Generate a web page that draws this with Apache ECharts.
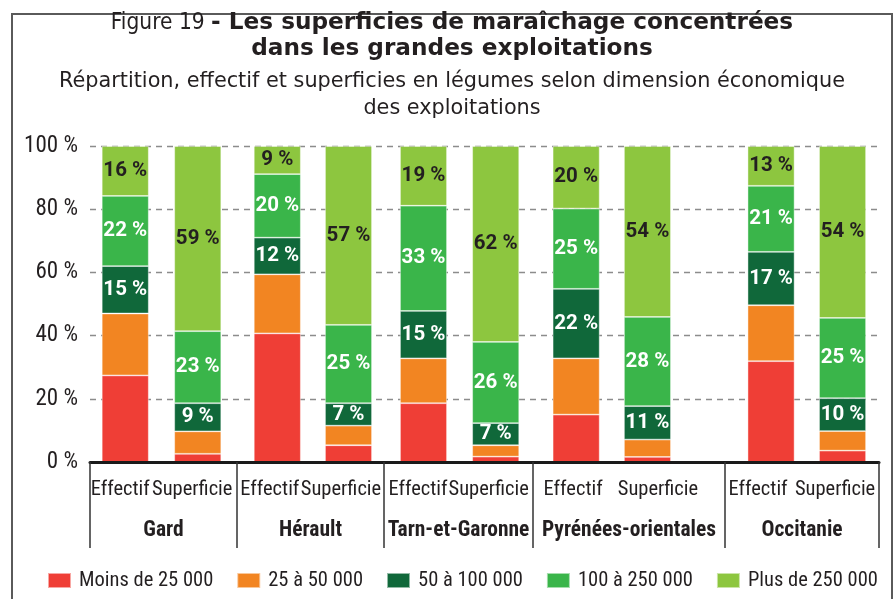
<!DOCTYPE html>
<html>
<head>
<meta charset="utf-8">
<script src="https://cdn.jsdelivr.net/npm/echarts@6/dist/echarts.min.js"></script>
<style>
html,body{margin:0;padding:0;background:#fff;}
#chart{width:895px;height:599px;}
</style>
</head>
<body>
<div id="chart"></div>
<script>
// ---- Data ----
var groups = ['Gard', 'Hérault', 'Tarn-et-Garonne', 'Pyrénées-orientales', 'Occitanie'];
var barCategories = ['Effectif', 'Superficie'];
var seriesNames = ['Moins de 25 000', '25 à 50 000', '50 à 100 000', '100 à 250 000', 'Plus de 250 000'];
// order: Gard E, Gard S, Hérault E, Hérault S, Tarn E, Tarn S, Pyr E, Pyr S, Occ E, Occ S
var moins25000   = [27.4, 2.6, 40.7, 5.3, 18.6, 1.7, 15.0, 1.6, 31.9, 3.6];
var de25a50000   = [19.6, 7.1, 18.7, 6.2, 14.2, 3.6, 17.8, 5.5, 17.7, 6.2];
var de50a100000  = [15.0, 8.9, 11.6, 7.1, 15.0, 7.0, 22.0, 10.6, 16.9, 10.4];
var de100a250000 = [22.2, 22.8, 20.1, 24.8, 33.3, 25.7, 25.4, 28.2, 20.9, 25.4];
var plus250000   = [15.8, 58.6, 8.9, 56.6, 18.9, 62.0, 19.8, 54.1, 12.6, 54.4];
var yTicks = [0, 20, 40, 60, 80, 100];

var seriesValues = [moins25000, de25a50000, de50a100000, de100a250000, plus250000];
var colors = ['#EF3E36', '#F28522', '#10683A', '#3AB54A', '#8DC63F'];
var labelColors = [null, null, '#ffffff', '#ffffff', '#231F20'];

var NARROW = "'Roboto Condensed','DejaVu Sans Condensed',sans-serif";
var TXT = '#231F20';

// layout (pixels)
var TOP = 146, H = 316;
var groupBounds = [[90, 237], [237, 384], [384, 533], [533, 725], [725, 879]];
var barGridBounds = [[89, 234], [241.7, 384.1], [387.4, 531.8], [540.5, 683.1], [735.3, 878.3]];
// horizontal shift of the "Effectif" / "Superficie" labels relative to the bar centre
var labelShift = [[-5, -5.5], [-7.5, -7.5], [-5.5, -7], [-3, 10.5], [-13, -7.5]];

function shiftPad(dx) { return dx < 0 ? [0, -2 * dx, 0, 0] : [0, 0, 0, 2 * dx]; }

var grid = [], xAxis = [], yAxis = [], series = [];

// background grid (y labels + dashed split lines)
grid.push({left: 90, width: 789, top: TOP, height: H});
xAxis.push({gridIndex: 0, type: 'category', data: [''], show: false});
yAxis.push({
  gridIndex: 0, type: 'value', min: yTicks[0], max: yTicks[yTicks.length - 1], interval: 20,
  axisLine: {show: false}, axisTick: {show: false},
  axisLabel: {formatter: '{value} %', margin: 12, fontFamily: NARROW, fontSize: 23, color: TXT},
  splitLine: {show: true, lineStyle: {type: [6, 5], color: '#8C8C8C', width: 1.3}}
});

// bar grids
groups.forEach(function (g, i) {
  var gi = grid.length;
  grid.push({left: barGridBounds[i][0], width: barGridBounds[i][1] - barGridBounds[i][0], top: TOP, height: H});
  var lblStyle = {fontFamily: NARROW, fontSize: 20.5, color: TXT};
  xAxis.push({
    gridIndex: gi, type: 'category', data: barCategories,
    axisLine: {show: false}, axisTick: {show: false},
    axisLabel: {
      interval: 0, margin: 17, hideOverlap: false,
      fontFamily: NARROW, fontSize: 20.5, color: TXT,
      formatter: function (v, idx) { return '{c' + idx + '|' + v + '}'; },
      rich: {
        c0: Object.assign({padding: shiftPad(labelShift[i][0])}, lblStyle),
        c1: Object.assign({padding: shiftPad(labelShift[i][1])}, lblStyle)
      }
    }
  });
  yAxis.push({gridIndex: gi, type: 'value', min: 0, max: 100, show: false});
  seriesValues.forEach(function (vals, s) {
    series.push({
      name: seriesNames[s], type: 'bar', xAxisIndex: gi, yAxisIndex: gi, stack: 'st' + i,
      barWidth: 47,
      data: [vals[2 * i], vals[2 * i + 1]],
      itemStyle: {color: colors[s], borderColor: 'rgba(255,255,255,0.55)', borderWidth: 0.8},
      label: labelColors[s] ? {
        show: true, position: 'inside', color: labelColors[s],
        fontFamily: "Roboto,sans-serif", fontWeight: 'bold', fontSize: 20.5,
        formatter: function (p) { return Math.round(p.value) + ' %'; }
      } : {show: false},
      emphasis: {disabled: true}
    });
  });
});

// group grids (axis line, separators, group names)
groups.forEach(function (g, i) {
  var gi = grid.length;
  grid.push({left: groupBounds[i][0], width: groupBounds[i][1] - groupBounds[i][0], top: TOP, height: H});
  xAxis.push({
    gridIndex: gi, type: 'category', data: [g], z: 5,
    axisLine: {show: true, lineStyle: {color: '#1a1a1a', width: 3}},
    axisTick: {show: true, length: 86, lineStyle: {color: '#333333', width: 1.5}},
    axisLabel: {interval: 0, margin: 58, fontFamily: NARROW, fontWeight: 'bold', fontSize: 21.5, color: TXT}
  });
  yAxis.push({gridIndex: gi, type: 'value', min: 0, max: 100, show: false});
});

var option = {
  backgroundColor: '#ffffff',
  animation: false,
  title: {
    left: 452, textAlign: 'center', top: 10, padding: 0, itemGap: 9, z: 10,
    text: '{a|Figure 19 }{b|- Les superficies de maraîchage concentrées}\n{b|dans les grandes exploitations}',
    textStyle: {
      rich: {
        a: {fontFamily: "'DejaVu Sans Condensed','DejaVu Sans',sans-serif", fontSize: 22.5, fontWeight: 'normal', color: TXT, lineHeight: 26},
        b: {fontFamily: "'DejaVu Sans',sans-serif", fontSize: 23.2, fontWeight: 'bold', color: TXT, lineHeight: 26}
      }
    },
    subtext: 'Répartition, effectif et superficies en légumes selon dimension économique\ndes exploitations',
    subtextStyle: {fontFamily: "'DejaVu Sans',sans-serif", fontSize: 20.8, color: TXT, lineHeight: 27}
  },
  legend: {
    data: seriesNames, left: 47, top: 570, padding: 0, itemWidth: 23, itemHeight: 15, itemGap: 23,
    icon: 'rect',
    textStyle: {fontFamily: NARROW, fontSize: 20.5, color: TXT, padding: [0, 0, 0, 3]},
    selectedMode: false
  },
  graphic: [{
    type: 'rect', z: -1, silent: true,
    shape: {x: 12, y: 14, width: 880, height: 610},
    style: {fill: 'none', stroke: '#5a5a5a', lineWidth: 2}
  }],
  grid: grid, xAxis: xAxis, yAxis: yAxis, series: series
};

var chart = echarts.init(document.getElementById('chart'), null, {renderer: 'canvas'});
chart.setOption(option);
</script>
</body>
</html>
